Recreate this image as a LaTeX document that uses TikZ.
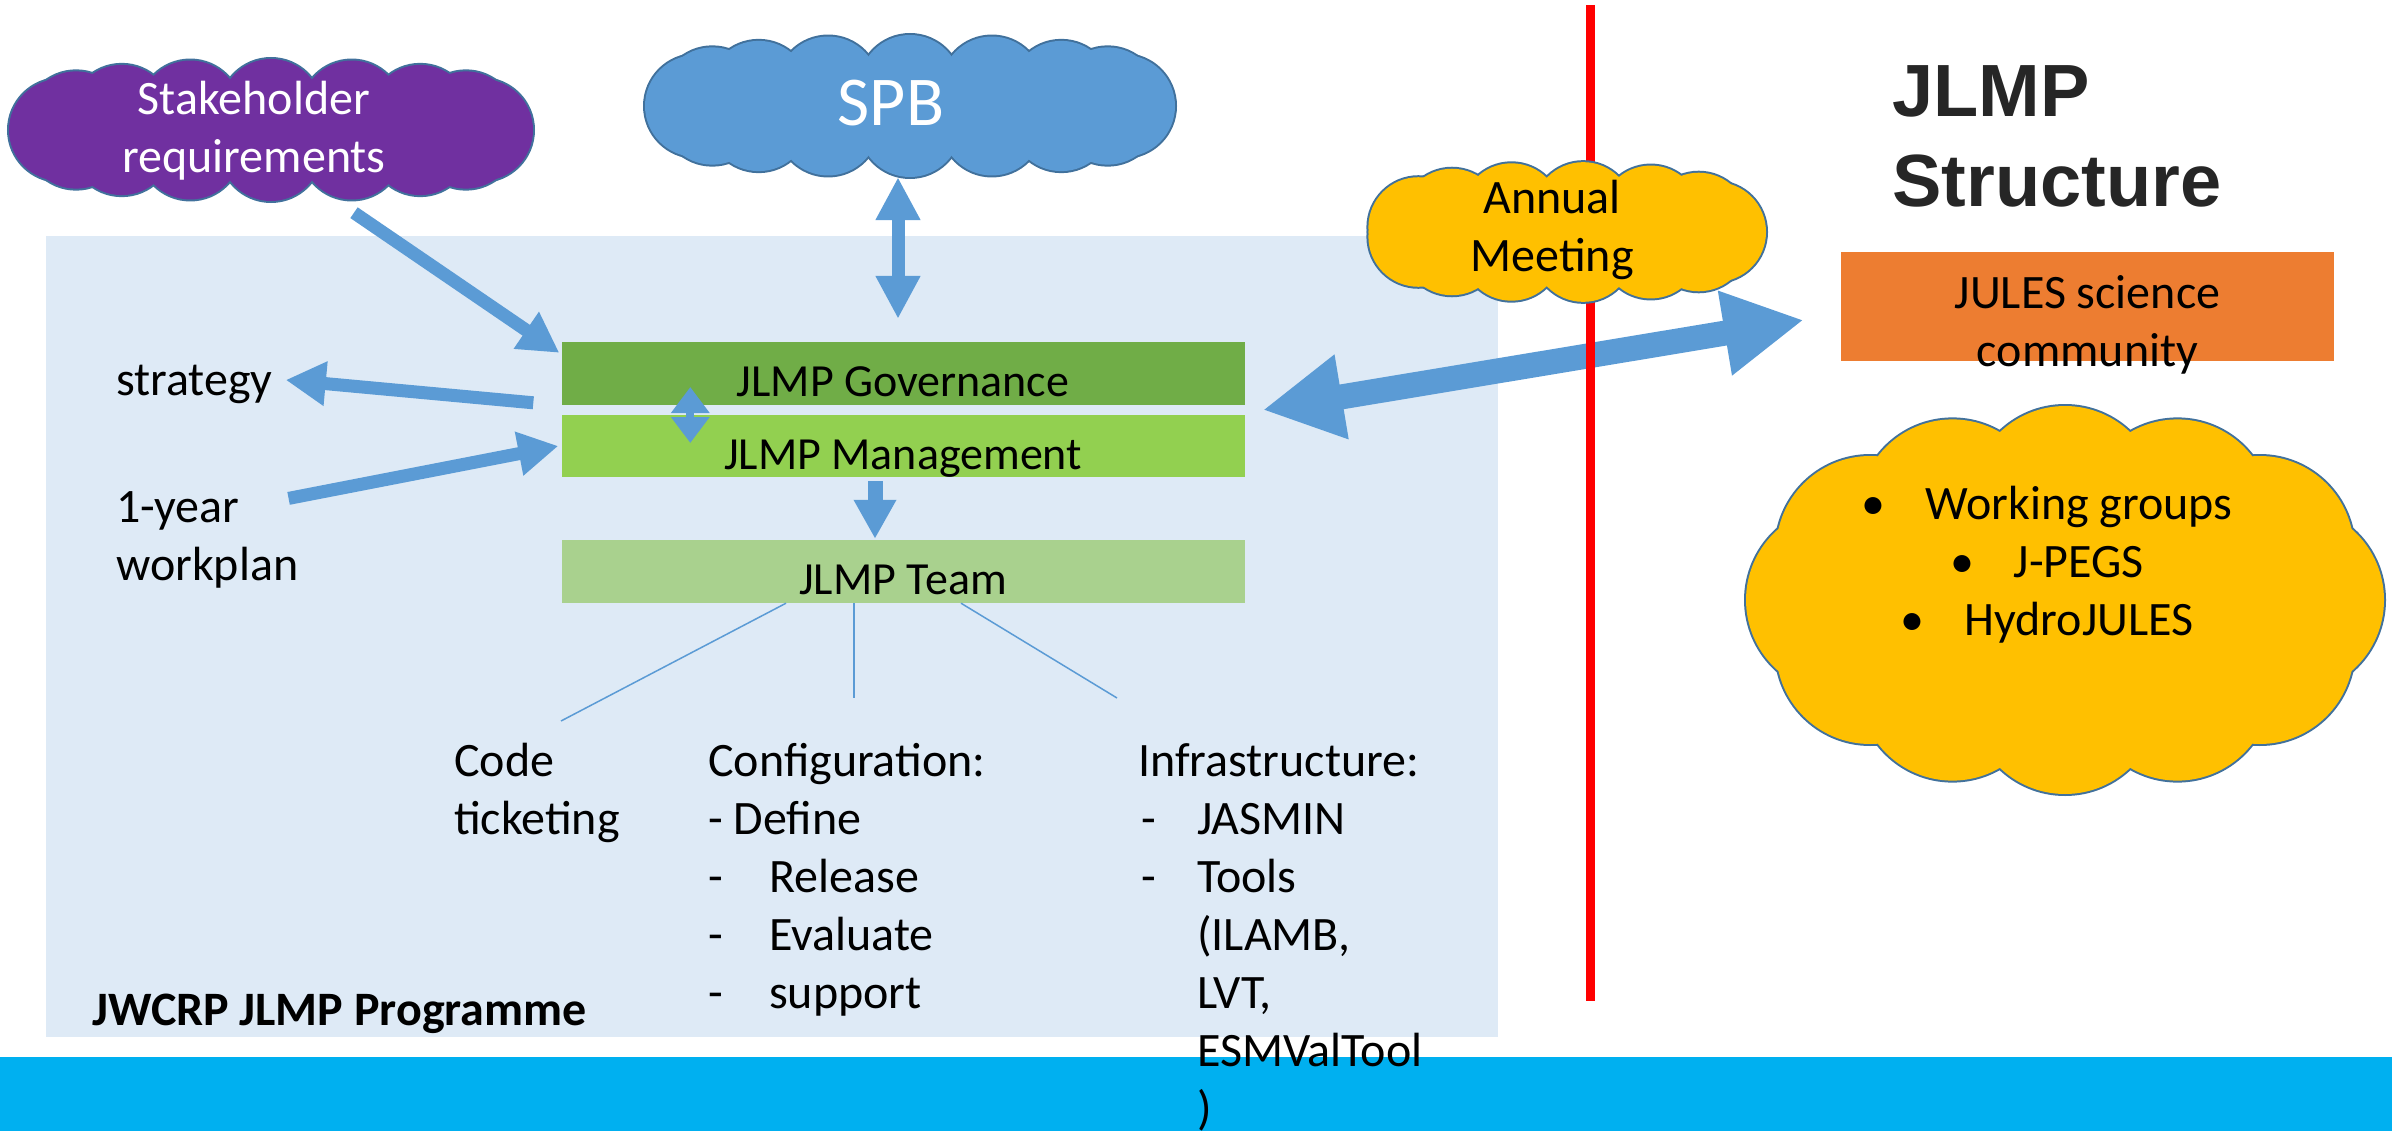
\documentclass[tikz,border=0pt]{standalone}
\usepackage{fontspec}
\setmainfont{Carlito}
\newfontfamily\titlefont{Liberation Sans}
\usetikzlibrary{arrows.meta,positioning,calc}

\definecolor{progblue}{HTML}{DEEAF6}
\definecolor{arrowblue}{HTML}{5B9BD5}
\definecolor{cloudline}{HTML}{41719C}
\definecolor{govgreen}{HTML}{70AD47}
\definecolor{mgmtgreen}{HTML}{92D050}
\definecolor{teamgreen}{HTML}{A9D18E}
\definecolor{stakepurple}{HTML}{7030A0}
\definecolor{meetyellow}{HTML}{FFC000}
\definecolor{julesorange}{HTML}{ED7D31}
\definecolor{bandcyan}{HTML}{00B0F0}
\definecolor{titlegray}{HTML}{262626}

\newcommand{\bodyfont}{\fontsize{48}{58}\selectfont}
% puffs on an ellipse round a named node: name, a, b, radius, count, fill
\newcommand{\puffcloud}[6]{%
  \foreach \k in {1,...,#5}
    \draw[cloudline, line width=4pt] ($(#1)+({#2*cos(360*\k/#5)},{#3*sin(360*\k/#5)})$) circle[radius=#4];
  \foreach \k in {1,...,#5}
    \fill[#6] ($(#1)+({#2*cos(360*\k/#5)},{#3*sin(360*\k/#5)})$) circle[radius=#4];
  \fill[#6] (#1) ellipse[x radius=#2, y radius=#3];
}

\tikzset{
  txt/.style={font=\bodyfont, inner sep=0pt, align=left},
  cloudspot/.style={inner sep=0pt},
  bar/.style={minimum width=683pt, minimum height=63pt, inner sep=0pt,
    font=\fontsize{46}{56}\selectfont, text height=46pt, text depth=0pt},
  blockarrow/.style={draw=arrowblue, line width=13pt,
    -{Triangle[length=40pt,width=42pt]}},
  twoway/.style={draw=arrowblue, line width=13pt,
    {Triangle[length=43pt,width=42pt]}-{Triangle[length=43pt,width=42pt]}},
  teamline/.style={draw=arrowblue, line width=1.5pt}
}

\begin{document}
\begin{tikzpicture}[x=1pt,y=-1pt]
    \useasboundingbox (0,0) rectangle (2392,1131);
    \fill[bandcyan] (0,1057) rectangle (2392,1131);
    \node[fill=progblue, minimum width=1452pt, minimum height=801pt, inner sep=0pt] (prog) at (772,636.5) {};
    \node[txt, font=\bodyfont\bfseries, anchor=base west] (progname) at (92,1025) {JWCRP JLMP Programme};

    % governance boxes
    \node[bar, fill=govgreen] (gov) at (903,373.5) {JLMP Governance};
    \node[bar, fill=mgmtgreen, minimum height=62pt] (mgmt) at (903,446) {JLMP Management};
    \node[bar, fill=teamgreen] (team) at (903,571.5) {JLMP Team};

    % side texts
    \node[txt, anchor=base west] (strat) at (116,395) {strategy};
    \node[txt, anchor=north west] (plan) at (116,481.4) {\strut 1-year\\workplan};
    \node[txt, anchor=north west] (code) at (454,735.4) {\strut Code\\ticketing};
    \node[txt, anchor=north west] (config) at (708,735.4) {\strut Configuration:\\- Define\\\makebox[61pt][l]{-}Release\\\makebox[61pt][l]{-}Evaluate\\\makebox[61pt][l]{-}support};
    \node[txt, anchor=north west] (infra) at (1138,735.4) {\strut Infrastructure:\\\makebox[59pt][l]{\hspace{3pt}-}JASMIN\\\makebox[59pt][l]{\hspace{3pt}-}Tools\\\hspace*{59pt}(ILAMB,\\\hspace*{59pt}LVT,\\\hspace*{59pt}ESMValTool\\\hspace*{59pt})};

    % clouds
    \node[cloudspot, minimum width=524pt, minimum height=141pt] (stake) at (271,130) {};
    \puffcloud{stake}{211}{20}{51}{16}{stakepurple}
    \node[txt, align=center, text=white] (staketext) at (254,131) {Stakeholder\\requirements};
    \node[cloudspot, minimum width=530pt, minimum height=142pt] (spb) at (910,106) {};
    \puffcloud{spb}{214}{20}{51}{16}{arrowblue}
    \node[txt, text=white, font=\fontsize{70}{84}\selectfont] (spbtext) at (891,103) {SPB};

    % arrows
    \draw[blockarrow] ($(stake.south)+(83,12)$) -- ($(gov.north west)+(-2,11)$);
    \coordinate (spbend) at ($(gov.north)+(-5,-23)$);
    \draw[twoway] (spbend |- spb.south) -- (spbend);
    \draw[blockarrow] ($(mgmt.north west)+(-28,-12)$) -- ($(strat.east)+(13,-4)$);
    \draw[blockarrow] ($(plan.north east)+(-10,17)$) -- ($(mgmt.west)+(-3,0)$);
    \draw[draw=arrowblue, line width=8pt, {Triangle[length=26pt,width=37pt]}-{Triangle[length=26pt,width=37pt]}] ($(gov.west)+(129,13.5)$) -- ($(mgmt.west)+(129,-3)$);
    \draw[draw=arrowblue, line width=15pt, -{Triangle[length=39pt,width=40pt]}] ($(mgmt.south)+(-28,4)$) -- ($(team.north)+(-28,-1)$);

    % team branches
    \coordinate (codeend) at (561,721);
    \coordinate (configend) at (854,698);
    \coordinate (infraend) at (1117,698);
    \draw[teamline] ($(team.south)+(-117,0)$) -- (codeend);
    \draw[teamline] (configend |- team.south) -- (configend);
    \draw[teamline] ($(team.south)+(58,0)$) -- (infraend);

    % community side
    \node[fill=julesorange, minimum width=493pt, minimum height=109pt, inner sep=0pt] (jules) at (2087.5,306.5) {};
    \node[txt, align=center, anchor=north] (julestext) at (2087.5,268) {\strut JULES science\\community};
    \draw[draw=arrowblue, line width=25pt, {Triangle[length=80pt,width=80pt]}-{Triangle[length=80pt,width=80pt]}] ($(gov.south east)!0.5!(mgmt.north east)+(18,0)$) -- ($(jules.west)+(-37,13.5)$);
    \draw[red, line width=9pt] (1590,5) -- (1590,1001);
    \node[cloudspot, minimum width=402pt, minimum height=140pt] (meet) at (1565,232) {};
    \puffcloud{meet}{151}{20}{50}{13}{meetyellow}
    \node[txt, align=center] (meettext) at (1552,230) {Annual\\Meeting};
    \node[cloudspot, minimum width=641pt, minimum height=389pt] (wg) at (2065,600) {};
    \puffcloud{wg}{225}{100}{94}{12}{meetyellow}
    \node[txt, align=center, anchor=north] (wgtext) at (2047,479) {\strut\textbullet\hspace{40pt}Working groups\\\textbullet\hspace{40pt}J-PEGS\\\textbullet\hspace{40pt}HydroJULES};

    \node[anchor=north west, inner sep=0pt, align=left, text=titlegray, font=\titlefont\bfseries\fontsize{74}{90}\selectfont] (title) at (1892,65) {JLMP\\Structure};
\end{tikzpicture}
\end{document}
